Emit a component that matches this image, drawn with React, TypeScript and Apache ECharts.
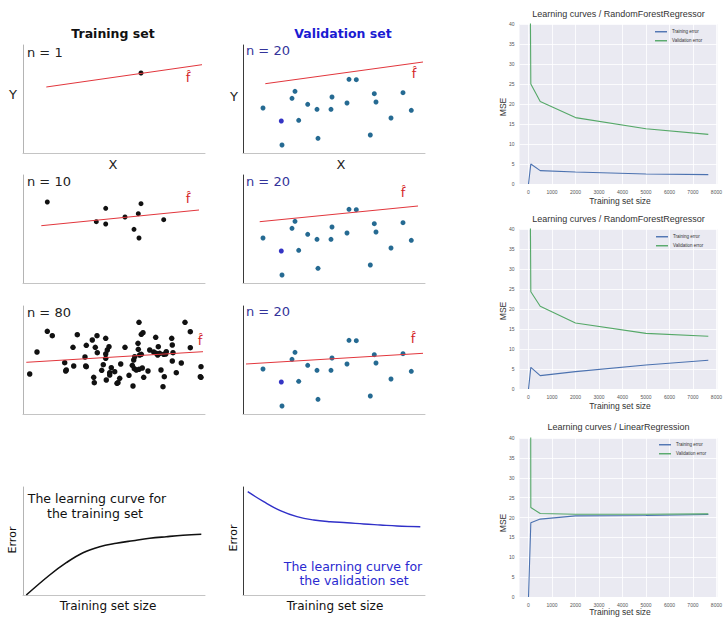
import React, { useEffect, useRef } from 'react';
import * as echarts from 'echarts';

// ---------- Left: illustrative panels (units: panel width 0..182, height 0..108) ----------
const n1X = [118];
const n1Y = [80];
const fit1X = [23.3, 179];
const fit1Y = [66, 88.3];

const n10X = [24.3, 73.3, 82.7, 82.7, 102, 111, 115.3, 116, 118, 140.7];
const n10Y = [81, 61.3, 74.7, 59, 66, 53.7, 69.3, 45, 79.3, 63.3];
const fit10X = [18.3, 176];
const fit10Y = [57.3, 73];

const n80X = [6.7, 14, 24.3, 29.3, 41.7, 42.7, 50, 50.7, 54.3, 62, 62.7, 63.3, 69.3, 70.7, 71.3, 72.3, 74, 74.3, 78.7, 80.3,
  82.7, 82.7, 82.7, 83.3, 84.3, 86, 86.7, 88.3, 91.7, 94, 95, 96.7, 97.7, 102, 106, 109.3, 110, 110.7, 111.3, 113.3,
  115, 115.3, 116, 116, 116.7, 118.3, 118.3, 120, 119.3, 120.7, 125, 126.7, 130.7, 132.7, 134.7, 135.3, 136.7, 138, 140, 140.7,
  141.3, 142.7, 148.7, 149.3, 150, 149.3, 153.3, 158.3, 162, 167.3, 167.3, 178, 177.3, 178, 133.3, 143.3, 111.7, 86.7, 63.3, 43.3];
const n80Y = [40, 62, 82.7, 78.3, 51.3, 43, 66.7, 48, 79.3, 57, 48, 68.7, 74, 36.7, 31.3, 66.7, 78.3, 61.3, 43.7, 49.3,
  75.7, 60, 55.7, 34, 64, 67.3, 41.3, 46.3, 42.3, 30.7, 31.3, 35.7, 50, 66.7, 38.7, 48.7, 28, 54, 45.3, 44,
  70.7, 64.7, 91.7, 44.7, 59, 59.7, 79.7, 81.3, 46, 36.7, 43, 64, 62, 76.7, 59, 67.3, 60.7, 44, 27.3, 59.7,
  37.3, 60, 75.7, 69, 61.3, 53, 41.3, 51, 91.7, 82.3, 66.3, 47.3, 37.3, 36.7, 60.7, 62.3, 57.3, 39, 47.3, 44];
const fit80X = [3.3, 180];
const fit80Y = [51.7, 62.3];

const valX = [20, 39, 49, 52, 55.7, 64.7, 74, 75, 88, 89, 104, 106, 113.3, 127.3, 131.3, 133, 148, 160, 168.3];
const valY = [45, 8, 54.7, 61.7, 32.7, 48.7, 43.7, 14.7, 43.7, 56, 50, 73.7, 73.3, 18, 59.3, 51, 35, 60.3, 42.7];
const valOddX = [38.3];
const valOddY = [32];
const fitV1X = [22.3, 180];
const fitV1Y = [69.3, 91];
const fitV2X = [16.7, 175];
const fitV2Y = [61.3, 77];
const fitV3X = [3, 180];
const fitV3Y = [50, 60.7];

const trainCurveX = [3.3, 26.7, 43.3, 60, 76.7, 93.3, 110, 126.7, 143.3, 160, 178.3];
const trainCurveY = [0, 20, 32.3, 42.3, 48.3, 51.7, 54.3, 56.7, 58.3, 59.7, 60.7];
const valCurveX = [4.7, 20.7, 37.3, 54, 70.7, 87.3, 104, 120.7, 137.3, 154, 177.3];
const valCurveY = [103.3, 93.3, 84.3, 78.3, 75, 73.3, 72.3, 71, 70, 69, 68.3];

// ---------- Right: learning curves ----------
const trainSizes = [1, 100, 500, 2000, 5000, 7654];
const rfTrainA = [0, 5.0, 3.35, 3.0, 2.5, 2.35];
const rfValA = [120, 25.0, 20.6, 16.6, 13.8, 12.4];
const rfTrainB = [0, 5.4, 3.35, 4.35, 6.0, 7.2];
const rfValB = [120, 24.3, 20.7, 16.5, 13.9, 13.2];
const linTrain = [0, 18.7, 19.6, 20.4, 20.5, 20.75];
const linVal = [420, 22.5, 21.0, 20.8, 20.8, 20.9];
const xTicks = [0, 1000, 2000, 3000, 4000, 5000, 6000, 7000, 8000];
const chartTitles = [
  'Learning curves / RandomForestRegressor',
  'Learning curves / RandomForestRegressor',
  'Learning curves / LinearRegression',
];
const legendNames = ['Training error', 'Validation error'];

const LF = 'DejaVu Sans';
const RF = 'Liberation Sans, Arial, sans-serif';
const RED = '#e2363c';
const VALDOT = '#256a92';
const BLUE_T = '#1b1bd2';
const SNS_BLUE = '#4C72B0';
const SNS_GREEN = '#55A868';

function zip(xs: number[], ys: number[]) {
  return xs.map((x, i) => [x, ys[i]]);
}

function txt(text: string, x: number, y: number, o: any = {}) {
  return {
    type: 'text',
    x,
    y,
    rotation: o.rotation || 0,
    silent: true,
    style: {
      text,
      fill: o.color || '#222',
      fontSize: o.size || 13,
      fontFamily: o.family || LF,
      fontWeight: o.weight || 'normal',
      textAlign: o.align || 'center',
      textVerticalAlign: 'middle',
    },
  };
}

export default function App() {
  const ref = useRef<HTMLDivElement>(null);
  useEffect(() => {
    document.body.style.margin = '0';
    const chart = echarts.init(ref.current as HTMLDivElement, null, { renderer: 'svg' });

    const panelPos = [
      [23, 45], [243, 45], [23, 175], [243, 175], [23, 306], [243, 306], [23, 487], [243, 487],
    ];
    const darkLeft = [false, true, false, true, false, true, false, true];
    const grid: any[] = [];
    const xAxis: any[] = [];
    const yAxis: any[] = [];
    panelPos.forEach((p, i) => {
      grid.push({ left: p[0], top: p[1], width: 182, height: 108 });
      xAxis.push({
        gridIndex: i, type: 'value', min: 0, max: 182,
        axisLine: { show: true, onZero: false, lineStyle: { color: '#c4c4c4', width: 1 } },
        axisTick: { show: false }, axisLabel: { show: false }, splitLine: { show: false },
      });
      yAxis.push({
        gridIndex: i, type: 'value', min: 0, max: 108,
        axisLine: { show: true, onZero: false, lineStyle: { color: darkLeft[i] ? '#3a3a3a' : '#b4b4b4', width: 1 } },
        axisTick: { show: false }, axisLabel: { show: false }, splitLine: { show: false },
      });
    });

    const rightTops = [24, 229, 438];
    const rightHeights = [160, 160, 159];
    rightTops.forEach((t, k) => {
      const gi = 8 + k;
      grid.push({
        left: 519.5, top: t, width: 197.8, height: rightHeights[k],
        show: true, backgroundColor: '#EAEAF2', borderWidth: 0,
      });
      xAxis.push({
        gridIndex: gi, type: 'value', min: -382, max: 8037,
        axisLine: { show: false },
        axisTick: { show: false, customValues: xTicks },
        axisLabel: {
          customValues: xTicks, fontSize: 5, color: '#555', margin: 5, fontFamily: RF,
          formatter: (v: number) => String(v),
        },
        splitLine: { show: true, lineStyle: { color: '#ffffff', width: 0.8 } },
      });
      yAxis.push({
        gridIndex: gi, type: 'value', min: 0, max: 40, interval: 5,
        axisLine: { show: false }, axisTick: { show: false },
        axisLabel: { fontSize: 5, color: '#555', margin: 5, fontFamily: RF },
        splitLine: { show: true, lineStyle: { color: '#ffffff', width: 0.8 } },
      });
    });

    const sc = (i: number, xs: number[], ys: number[], color: string, size = 5) => ({
      type: 'scatter', xAxisIndex: i, yAxisIndex: i, data: zip(xs, ys), symbolSize: size,
      itemStyle: { color, opacity: 1 }, silent: true,
    });
    const ln = (i: number, xs: number[], ys: number[], color: string, width = 1, smooth: any = false) => ({
      type: 'line', xAxisIndex: i, yAxisIndex: i, data: zip(xs, ys), symbol: 'none', smooth,
      lineStyle: { color, width }, silent: true,
    });

    const series: any[] = [
      ln(0, fit1X, fit1Y, RED), sc(0, n1X, n1Y, '#111'),
      ln(1, fitV1X, fitV1Y, RED), sc(1, valX, valY, VALDOT), sc(1, valOddX, valOddY, '#3434c4'),
      ln(2, fit10X, fit10Y, RED), sc(2, n10X, n10Y, '#111'),
      ln(3, fitV2X, fitV2Y, RED), sc(3, valX, valY, VALDOT), sc(3, valOddX, valOddY, '#3434c4'),
      ln(4, fit80X, fit80Y, RED), sc(4, n80X, n80Y, '#111', 5.5),
      ln(5, fitV3X, fitV3Y, RED), sc(5, valX, valY, VALDOT), sc(5, valOddX, valOddY, '#3434c4'),
      ln(6, trainCurveX, trainCurveY, '#111', 1.6, 0.4),
      ln(7, valCurveX, valCurveY, '#3030c8', 1.4, 0.4),
    ];

    const rightData = [
      [rfTrainA, rfValA],
      [rfTrainB, rfValB],
      [linTrain, linVal],
    ];
    rightData.forEach((d, k) => {
      const gi = 8 + k;
      series.push({
        type: 'line', name: legendNames[0], xAxisIndex: gi, yAxisIndex: gi, data: zip(trainSizes, d[0]),
        symbol: 'none', clip: true, lineStyle: { color: SNS_BLUE, width: 1.1 }, itemStyle: { color: SNS_BLUE },
      });
      series.push({
        type: 'line', name: legendNames[1], xAxisIndex: gi, yAxisIndex: gi, data: zip(trainSizes, d[1]),
        symbol: 'none', clip: true, lineStyle: { color: SNS_GREEN, width: 1.1 }, itemStyle: { color: SNS_GREEN },
      });
    });

    const legendPos = [[655, 29], [656, 234], [659, 442]];
    const legend = legendPos.map((p) => ({
      left: p[0], top: p[1], orient: 'vertical', padding: 0,
      itemWidth: 12, itemHeight: 1.4, itemGap: 3.5, icon: 'rect',
      textStyle: { fontSize: 4.5, color: '#333', fontFamily: RF, lineHeight: 5.5 },
      data: legendNames, selectedMode: false,
    }));

    const graphics: any[] = [
      txt('Training set', 113, 33, { weight: 'bold', size: 12.5, color: '#111' }),
      txt('Validation set', 343, 33, { weight: 'bold', size: 12.5, color: BLUE_T }),
      txt('n = 1', 27, 52, { align: 'left', color: '#222' }),
      txt('n = 20', 246, 50, { align: 'left', color: '#34349a' }),
      txt('n = 10', 27, 181, { align: 'left', color: '#222' }),
      txt('n = 20', 246, 181, { align: 'left', color: '#34349a' }),
      txt('n = 80', 27, 312, { align: 'left', color: '#222' }),
      txt('n = 20', 246, 311, { align: 'left', color: '#34349a' }),
      txt('Y', 13, 94, { color: '#222' }),
      txt('Y', 234, 96, { color: '#222' }),
      txt('X', 113, 164, { color: '#222' }),
      txt('X', 341, 164, { color: '#222' }),
      txt('f\u0302', 188, 77, { color: '#d42424', size: 13 }),
      txt('f\u0302', 414, 73, { color: '#d42424', size: 13 }),
      txt('f\u0302', 188, 198, { color: '#d42424', size: 13 }),
      txt('f\u0302', 403, 192, { color: '#d42424', size: 13 }),
      txt('f\u0302', 200, 340, { color: '#d42424', size: 13 }),
      txt('f\u0302', 413, 338, { color: '#d42424', size: 13 }),
      txt('The learning curve for', 97, 498, { size: 12.5, color: '#111' }),
      txt('the training set', 95, 513, { size: 12.5, color: '#111' }),
      txt('The learning curve for', 353, 566, { size: 12.5, color: '#2a2ad0' }),
      txt('the validation set', 354, 580, { size: 12.5, color: '#2a2ad0' }),
      txt('Error', 12, 540, { size: 11, rotation: Math.PI / 2, color: '#111' }),
      txt('Error', 233, 538, { size: 11, rotation: Math.PI / 2, color: '#111' }),
      txt('Training set size', 108, 606, { size: 12, color: '#111' }),
      txt('Training set size', 335, 606, { size: 12, color: '#111' }),
    ];
    const rTitleY = [14, 219, 427];
    const rXLabelY = [201, 406, 612];
    const rMseY = [107, 311, 523];
    [0, 1, 2].forEach((k) => {
      graphics.push(txt(chartTitles[k], 618.5, rTitleY[k], { size: 9, family: RF, color: '#333' }));
      graphics.push(txt('Training set size', 620, rXLabelY[k], { size: 8.5, family: RF, color: '#333' }));
      graphics.push(txt('MSE', 503, rMseY[k], { size: 8.5, family: RF, color: '#333', rotation: Math.PI / 2 }));
    });

    chart.setOption({
      animation: false,
      backgroundColor: '#ffffff',
      grid, xAxis, yAxis, series, legend,
      graphic: { elements: graphics },
    });
    return () => chart.dispose();
  }, []);
  return <div ref={ref} style={{ width: 725, height: 621 }} />;
}
